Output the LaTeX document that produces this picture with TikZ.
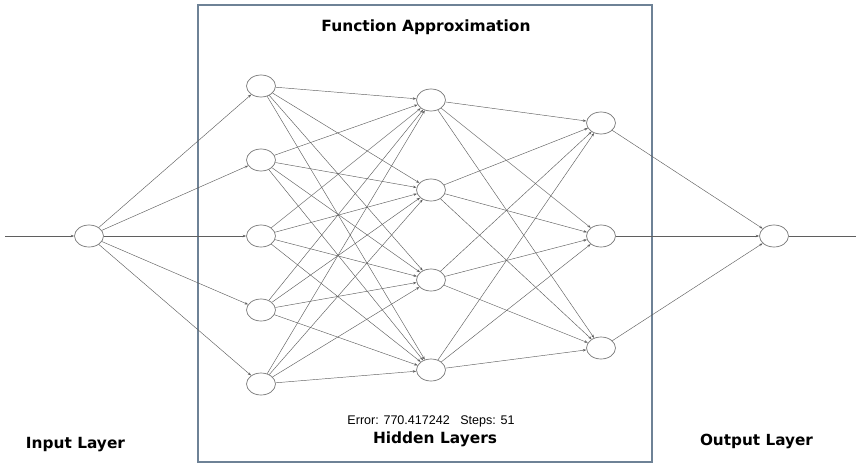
\documentclass[tikz,border=0pt]{standalone}
\usepackage{fontspec}
\setmainfont{Liberation Sans}
\newfontfamily\heavy{DejaVu Sans}[BoldFont={DejaVu Sans Bold}]
\usetikzlibrary{arrows.meta,shapes.geometric}
\definecolor{edgegray}{RGB}{95,95,95}
\definecolor{nodegray}{RGB}{120,120,120}
\definecolor{boxblue}{RGB}{110,130,150}
\tikzset{
  neuron/.style={draw=nodegray, line width=0.7pt, ellipse, minimum width=29pt, minimum height=22pt, inner sep=0pt, fill=white},
  conn/.style={draw=edgegray, line width=0.45pt, -{Stealth[length=3.5pt,width=2.5pt]}},
  title/.style={font=\heavy\bfseries\fontsize{14}{16}\selectfont, inner sep=0pt},
  small/.style={font=\fontsize{11}{13}\selectfont, inner sep=0pt}
}
\begin{document}
\begin{tikzpicture}[x=1pt,y=-1pt]
\useasboundingbox (0,0) rectangle (856,466);
\draw[boxblue, line width=1.2pt] (198,5) rectangle (652,462);
% nodes
\node[neuron] (i) at (89,236) {};
\foreach \k/\y in {1/86,2/160,3/236,4/310,5/384} \node[neuron] (a\k) at (261,\y) {};
\foreach \k/\y in {1/100,2/190,3/280,4/370} \node[neuron] (b\k) at (431,\y) {};
\foreach \k/\y in {1/123,2/236,3/348} \node[neuron] (c\k) at (601,\y) {};
\node[neuron] (o) at (774,236) {};
\coordinate (in) at (5,236);
\coordinate (out) at (856,236);
% edges
\draw[conn] (in) -- (i);
\foreach \k in {1,...,5} \draw[conn] (i) -- (a\k);
\foreach \k in {1,...,5} \foreach \j in {1,...,4} \draw[conn] (a\k) -- (b\j);
\foreach \k in {1,...,4} \foreach \j in {1,...,3} \draw[conn] (b\k) -- (c\j);
\foreach \k in {1,...,3} \draw[conn] (c\k) -- (o);
\draw[draw=edgegray, line width=0.45pt] (o) -- (out);
% labels
\node[title] (t1) at (426,27) {\resizebox{209pt}{!}{Function Approximation}};
\node[small] (t2) at (431,421) {\resizebox{167pt}{!}{Error: 770.417242 \ \ Steps: 51}};
\node[title] (t3) at (435,439) {\resizebox{124pt}{!}{Hidden Layers}};
\node[title] (t4) at (75.5,445) {\resizebox{99pt}{!}{Input Layer}};
\node[title] (t5) at (756.5,441) {\resizebox{113pt}{!}{Output Layer}};
\end{tikzpicture}
\end{document}
